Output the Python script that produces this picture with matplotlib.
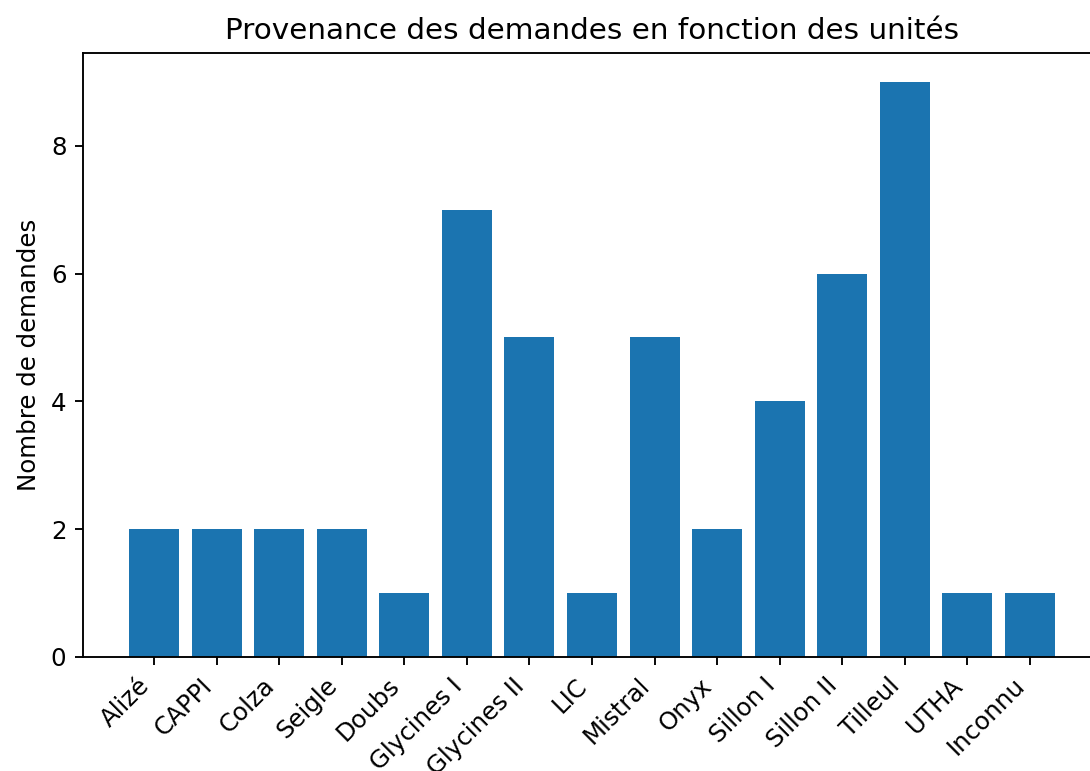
import matplotlib
matplotlib.use('Agg')
import matplotlib.pyplot as plt

unites = ['Alizé', 'CAPPI', 'Colza', 'Seigle', 'Doubs', 'Glycines I', 'Glycines II',
          'LIC', 'Mistral', 'Onyx', 'Sillon I', 'Sillon II', 'Tilleul', 'UTHA', 'Inconnu']
nb_demandes = [2, 2, 2, 2, 1, 7, 5, 1, 5, 2, 4, 6, 9, 1, 1]

plt.rcParams['font.size'] = 10.4

fig = plt.figure(figsize=(1090 / 170, 771 / 170), dpi=170)
# the original picture is cropped on the right, so the axes run past the edge
ax = fig.add_axes([83 / 1090, 1 - 657 / 771, (1101 - 83) / 1090, (657 - 53) / 771])
ax.bar(range(len(unites)), nb_demandes, color='#1b74b0')
ax.set_xticks(range(len(unites)))
ax.set_xticklabels(unites, rotation=45, ha='right')
ax.set_ylabel('Nombre de demandes')
ax.set_title('Provenance des demandes en fonction des unités')
plt.savefig('out.png', dpi=170)
